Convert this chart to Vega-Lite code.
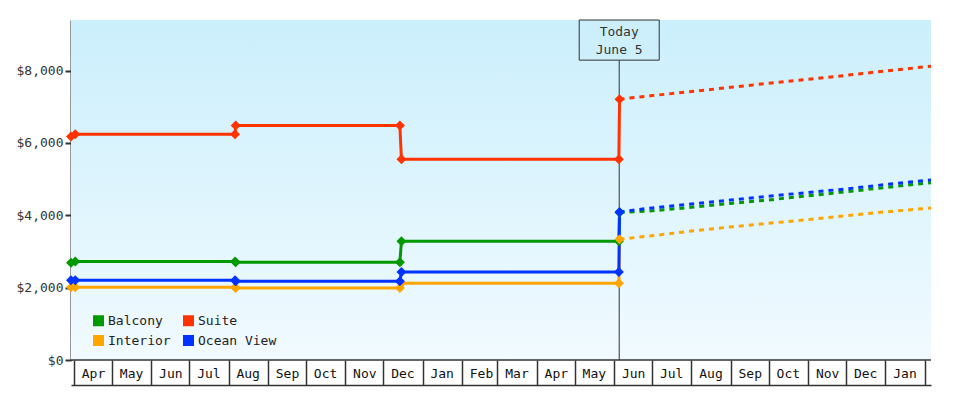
{
  "$schema": "https://vega.github.io/schema/vega-lite/v6.json",
  "width": 860,
  "height": 340,
  "autosize": "none",
  "padding": {"left": 71, "top": 20, "right": 49, "bottom": 40},
  "background": "#ffffff",
  "config": {
    "view": {"stroke": null},
    "font": "DejaVu Sans Mono",
    "axis": {"title": null, "grid": false}
  },
  "datasets": {
    "prices": [
      {"series": "Balcony", "date": "2022-03-29T15:00:00", "price": 2690, "kind": "actual"},
      {"series": "Balcony", "date": "2022-04-02T00:00:00", "price": 2720, "kind": "actual"},
      {"series": "Balcony", "date": "2022-08-06T00:00:00", "price": 2720, "kind": "actual"},
      {"series": "Balcony", "date": "2022-08-06T12:00:00", "price": 2705, "kind": "actual"},
      {"series": "Balcony", "date": "2022-12-14T00:00:00", "price": 2705, "kind": "actual"},
      {"series": "Balcony", "date": "2022-12-15T06:00:00", "price": 3285, "kind": "actual"},
      {"series": "Balcony", "date": "2023-06-04T18:00:00", "price": 3285, "kind": "actual"},
      {"series": "Balcony", "date": "2023-06-05T06:00:00", "price": 4075, "kind": "actual"},
      {"series": "Balcony", "date": "2023-06-05T06:00:00", "price": 4075, "kind": "forecast"},
      {"series": "Balcony", "date": "2023-07-01T00:00:00", "price": 4125, "kind": "forecast"},
      {"series": "Balcony", "date": "2023-08-01T00:00:00", "price": 4220, "kind": "forecast"},
      {"series": "Balcony", "date": "2023-09-01T00:00:00", "price": 4330, "kind": "forecast"},
      {"series": "Balcony", "date": "2023-10-01T00:00:00", "price": 4425, "kind": "forecast"},
      {"series": "Balcony", "date": "2023-11-01T00:00:00", "price": 4540, "kind": "forecast"},
      {"series": "Balcony", "date": "2023-12-01T00:00:00", "price": 4650, "kind": "forecast"},
      {"series": "Balcony", "date": "2024-01-01T00:00:00", "price": 4770, "kind": "forecast"},
      {"series": "Balcony", "date": "2024-02-05T22:00:00", "price": 4903, "kind": "forecast"},

      {"series": "Suite", "date": "2022-03-29T15:00:00", "price": 6180, "kind": "actual"},
      {"series": "Suite", "date": "2022-04-02T00:00:00", "price": 6240, "kind": "actual"},
      {"series": "Suite", "date": "2022-08-06T00:00:00", "price": 6240, "kind": "actual"},
      {"series": "Suite", "date": "2022-08-06T12:00:00", "price": 6485, "kind": "actual"},
      {"series": "Suite", "date": "2022-12-14T00:00:00", "price": 6485, "kind": "actual"},
      {"series": "Suite", "date": "2022-12-15T06:00:00", "price": 5550, "kind": "actual"},
      {"series": "Suite", "date": "2023-06-04T18:00:00", "price": 5550, "kind": "actual"},
      {"series": "Suite", "date": "2023-06-05T06:00:00", "price": 7210, "kind": "actual"},
      {"series": "Suite", "date": "2023-06-05T06:00:00", "price": 7210, "kind": "forecast"},
      {"series": "Suite", "date": "2023-07-01T00:00:00", "price": 7310, "kind": "forecast"},
      {"series": "Suite", "date": "2023-08-01T00:00:00", "price": 7420, "kind": "forecast"},
      {"series": "Suite", "date": "2023-09-01T00:00:00", "price": 7540, "kind": "forecast"},
      {"series": "Suite", "date": "2023-10-01T00:00:00", "price": 7650, "kind": "forecast"},
      {"series": "Suite", "date": "2023-11-01T00:00:00", "price": 7760, "kind": "forecast"},
      {"series": "Suite", "date": "2023-12-01T00:00:00", "price": 7870, "kind": "forecast"},
      {"series": "Suite", "date": "2024-01-01T00:00:00", "price": 7990, "kind": "forecast"},
      {"series": "Suite", "date": "2024-02-05T22:00:00", "price": 8122, "kind": "forecast"},

      {"series": "Interior", "date": "2022-03-29T15:00:00", "price": 2010, "kind": "actual"},
      {"series": "Interior", "date": "2022-04-02T00:00:00", "price": 2010, "kind": "actual"},
      {"series": "Interior", "date": "2022-08-06T00:00:00", "price": 2010, "kind": "actual"},
      {"series": "Interior", "date": "2022-08-06T12:00:00", "price": 1990, "kind": "actual"},
      {"series": "Interior", "date": "2022-12-14T00:00:00", "price": 1990, "kind": "actual"},
      {"series": "Interior", "date": "2022-12-15T06:00:00", "price": 2120, "kind": "actual"},
      {"series": "Interior", "date": "2023-06-04T18:00:00", "price": 2120, "kind": "actual"},
      {"series": "Interior", "date": "2023-06-05T06:00:00", "price": 3340, "kind": "actual"},
      {"series": "Interior", "date": "2023-06-05T06:00:00", "price": 3340, "kind": "forecast"},
      {"series": "Interior", "date": "2023-07-01T00:00:00", "price": 3435, "kind": "forecast"},
      {"series": "Interior", "date": "2023-08-01T00:00:00", "price": 3565, "kind": "forecast"},
      {"series": "Interior", "date": "2023-09-01T00:00:00", "price": 3680, "kind": "forecast"},
      {"series": "Interior", "date": "2023-10-01T00:00:00", "price": 3780, "kind": "forecast"},
      {"series": "Interior", "date": "2023-11-01T00:00:00", "price": 3880, "kind": "forecast"},
      {"series": "Interior", "date": "2023-12-01T00:00:00", "price": 3990, "kind": "forecast"},
      {"series": "Interior", "date": "2024-01-01T00:00:00", "price": 4095, "kind": "forecast"},
      {"series": "Interior", "date": "2024-02-05T22:00:00", "price": 4203, "kind": "forecast"},

      {"series": "Ocean View", "date": "2022-03-29T15:00:00", "price": 2205, "kind": "actual"},
      {"series": "Ocean View", "date": "2022-04-02T00:00:00", "price": 2205, "kind": "actual"},
      {"series": "Ocean View", "date": "2022-08-06T00:00:00", "price": 2205, "kind": "actual"},
      {"series": "Ocean View", "date": "2022-08-06T12:00:00", "price": 2180, "kind": "actual"},
      {"series": "Ocean View", "date": "2022-12-14T00:00:00", "price": 2180, "kind": "actual"},
      {"series": "Ocean View", "date": "2022-12-15T06:00:00", "price": 2435, "kind": "actual"},
      {"series": "Ocean View", "date": "2023-06-04T18:00:00", "price": 2435, "kind": "actual"},
      {"series": "Ocean View", "date": "2023-06-05T06:00:00", "price": 4095, "kind": "actual"},
      {"series": "Ocean View", "date": "2023-06-05T06:00:00", "price": 4095, "kind": "forecast"},
      {"series": "Ocean View", "date": "2023-07-01T00:00:00", "price": 4205, "kind": "forecast"},
      {"series": "Ocean View", "date": "2023-08-01T00:00:00", "price": 4310, "kind": "forecast"},
      {"series": "Ocean View", "date": "2023-09-01T00:00:00", "price": 4425, "kind": "forecast"},
      {"series": "Ocean View", "date": "2023-10-01T00:00:00", "price": 4530, "kind": "forecast"},
      {"series": "Ocean View", "date": "2023-11-01T00:00:00", "price": 4630, "kind": "forecast"},
      {"series": "Ocean View", "date": "2023-12-01T00:00:00", "price": 4730, "kind": "forecast"},
      {"series": "Ocean View", "date": "2024-01-01T00:00:00", "price": 4850, "kind": "forecast"},
      {"series": "Ocean View", "date": "2024-02-05T22:00:00", "price": 4975, "kind": "forecast"}
    ],
    "one": [{"label": "Today"}]
  },
  "layer": [
    {
      "data": {"name": "one"},
      "mark": {
        "type": "rect",
        "fill": {"gradient": "linear", "x1": 0, "y1": 0, "x2": 0, "y2": 1,
          "stops": [{"offset": 0, "color": "#cbeffc"}, {"offset": 1, "color": "#f1faff"}]}
      },
      "encoding": {
        "x": {"datum": {"year": 2022, "month": 3, "date": 29, "hours": 15}, "type": "temporal",
          "scale": {"domain": [{"year": 2022, "month": 3, "date": 29, "hours": 15}, {"year": 2024, "month": 2, "date": 5, "hours": 22}]}},
        "x2": {"datum": {"year": 2024, "month": 2, "date": 5, "hours": 22}},
        "y": {"datum": 9400, "type": "quantitative",
          "scale": {"domain": [0, 9400], "nice": false, "zero": true}},
        "y2": {"datum": 0}
      }
    },
    {
      "data": {"name": "one"},
      "mark": {"type": "rule", "color": "#333333", "strokeWidth": 1.5},
      "encoding": {"y": {"datum": 0, "type": "quantitative"}}
    },
    {
      "data": {"name": "one"},
      "mark": {"type": "rule", "color": "#333333", "strokeWidth": 1},
      "encoding": {
        "x": {"datum": {"year": 2023, "month": 6, "date": 5}, "type": "temporal"},
        "y": {"datum": 8290, "type": "quantitative"},
        "y2": {"datum": 0}
      }
    },
    {
      "data": {"name": "one"},
      "mark": {"type": "rect", "fill": "#cdeffc", "stroke": "#333333", "strokeWidth": 1, "xOffset": -40, "x2Offset": 40},
      "encoding": {
        "x": {"datum": {"year": 2023, "month": 6, "date": 5}, "type": "temporal"},
        "x2": {"datum": {"year": 2023, "month": 6, "date": 5}},
        "y": {"datum": 9400, "type": "quantitative"},
        "y2": {"datum": 8290}
      }
    },
    {
      "data": {"name": "one"},
      "mark": {"type": "text", "text": ["Today", "June 5"], "lineHeight": 18, "baseline": "middle", "align": "center",
        "font": "DejaVu Sans Mono", "fontSize": 13, "color": "#333333"},
      "encoding": {
        "x": {"datum": {"year": 2023, "month": 6, "date": 5}, "type": "temporal"},
        "y": {"datum": 9070, "type": "quantitative"}
      }
    },
    {
      "data": {"name": "prices"},
      "transform": [{"filter": "datum.kind === 'forecast'"}],
      "mark": {"type": "line", "strokeWidth": 3, "strokeDash": [5, 5]},
      "encoding": {
        "x": {"field": "date", "type": "temporal"},
        "y": {"field": "price", "type": "quantitative"},
        "color": {"field": "series", "type": "nominal",
          "scale": {"domain": ["Balcony", "Interior", "Suite", "Ocean View"], "range": ["#009900", "#ffa500", "#ff3300", "#0033ff"]}}
      }
    },
    {
      "data": {"name": "prices"},
      "transform": [{"filter": "datum.kind === 'actual'"}],
      "mark": {"type": "line", "strokeWidth": 3},
      "encoding": {
        "x": {"field": "date", "type": "temporal"},
        "y": {"field": "price", "type": "quantitative"},
        "color": {"field": "series", "type": "nominal"}
      }
    },
    {
      "data": {"name": "prices"},
      "transform": [{"filter": "datum.kind === 'actual'"}],
      "mark": {"type": "point", "shape": "diamond", "filled": true, "size": 100, "opacity": 1},
      "encoding": {
        "x": {"field": "date", "type": "temporal",
          "axis": {
            "title": null, "format": "%b", "tickCount": {"interval": "month", "step": 1},
            "offset": 25, "tickSize": -25, "tickWidth": 1.5, "tickColor": "#333333",
            "domainColor": "#333333", "domainWidth": 1.5,
            "labelOffset": 19, "labelPadding": 13, "labelBaseline": "middle", "labelAlign": "center",
            "labelFontSize": 13, "labelFont": "DejaVu Sans Mono", "labelColor": "#111111",
            "labelFlush": false, "labelOverlap": false, "labelBound": false, "grid": false,
            "labelExpr": "(year(datum.value) == 2024 && month(datum.value) == 1) ? '' : timeFormat(datum.value, '%b')"
          }},
        "y": {"field": "price", "type": "quantitative",
          "axis": {
            "title": null, "values": [0, 2000, 4000, 6000, 8000], "format": "$,.0f",
            "tickSize": 6, "tickWidth": 2, "tickColor": "#333333",
            "domainColor": "#333333", "domainWidth": 2, "grid": false,
            "labelFontSize": 13, "labelFont": "DejaVu Sans Mono", "labelColor": "#333333", "labelPadding": 2
          }},
        "color": {"field": "series", "type": "nominal",
          "legend": {"orient": "none", "legendX": 21, "legendY": 294, "columns": 2, "title": null,
            "symbolType": "square", "symbolSize": 121, "symbolStrokeWidth": 0,
            "labelFontSize": 13, "labelFont": "DejaVu Sans Mono", "labelColor": "#222222",
            "rowPadding": 6, "columnPadding": 11, "labelOffset": 3, "padding": 0}}
      }
    }
  ]
}
